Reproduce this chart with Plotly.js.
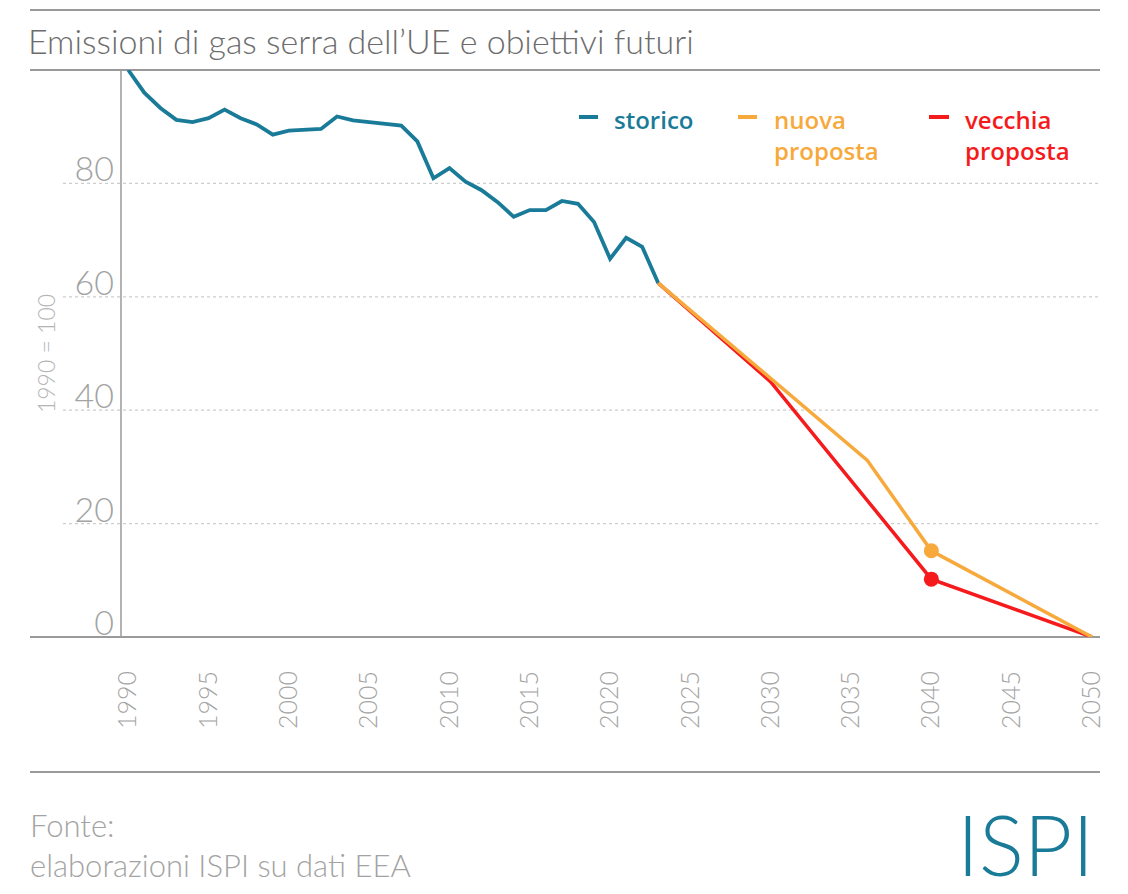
<!DOCTYPE html>
<html>
<head>
<meta charset="utf-8">
<script src="https://cdn.plot.ly/plotly-3.0.1.min.js"></script>
<style>
  html, body { margin: 0; padding: 0; background: #ffffff; }
  #chart { width: 1128px; height: 894px; }
</style>
</head>
<body>
<div id="chart"></div>
<script>
// EU greenhouse gas emissions, index 1990 = 100
const histYears = [1990, 1991, 1992, 1993, 1994, 1995, 1996, 1997, 1998, 1999,
                   2000, 2001, 2002, 2003, 2004, 2005, 2006, 2007, 2008, 2009,
                   2010, 2011, 2012, 2013, 2014, 2015, 2016, 2017, 2018, 2019,
                   2020, 2021, 2022, 2023];
const histValues = [100.0, 96.0, 93.3, 91.2, 90.8, 91.5, 93.0, 91.5, 90.4, 88.6,
                    89.3, 89.5, 89.6, 91.8, 91.1, 90.8, 90.5, 90.2, 87.4, 80.9,
                    82.7, 80.3, 78.8, 76.7, 74.1, 75.3, 75.3, 76.9, 76.4, 73.2,
                    66.7, 70.4, 68.8, 62.4];

// New target path
const newYears = [2023, 2030, 2036, 2040, 2050];
const newValues = [62.4, 45.6, 31.2, 15.2, 0];

// Old target path
const oldYears = [2023, 2030, 2040, 2050];
const oldValues = [62.4, 45.0, 10.2, 0];

const xTickVals = [1990, 1995, 2000, 2005, 2010, 2015, 2020, 2025, 2030, 2035, 2040, 2045, 2050];
const xTickText = xTickVals.map(String);
const yTickVals = [0, 20, 40, 60, 80];
const yTickText = ['0', '20', '40', '60', '80'];

const seriesNames = ['storico', 'nuova<br>proposta', 'vecchia<br>proposta'];

const COL_HIST = '#1a7b99';
const COL_NEW = '#f7a93b';
const COL_OLD = '#f51b1d';
const GREY_RULE = '#9a9a9a';
const GREY_TEXT = '#a3a3a3';

// plot area in pixels
const L = 121, R = 1100, T = 70, B = 637;
const px = x => (x - L) / (R - L);
const py = y => (B - y) / (B - T);

const LIGHT = 'Lato, "Open Sans", sans-serif';

const markerAt = (years, year, size) => years.map(y => (y === year ? size : 0));

const traces = [
  {
    x: histYears, y: histValues, type: 'scatter', mode: 'lines',
    line: { color: COL_HIST, width: 3.8 },
    hoverinfo: 'x+y', showlegend: false
  },
  {
    x: oldYears, y: oldValues, type: 'scatter', mode: 'lines+markers',
    line: { color: COL_OLD, width: 3.5 },
    marker: { color: COL_OLD, opacity: 1, size: markerAt(oldYears, 2040, 15), line: { width: 0 } },
    hoverinfo: 'x+y', showlegend: false
  },
  {
    x: newYears, y: newValues, type: 'scatter', mode: 'lines+markers',
    line: { color: COL_NEW, width: 3.5 },
    marker: { color: COL_NEW, opacity: 1, size: markerAt(newYears, 2040, 15), line: { width: 0 } },
    hoverinfo: 'x+y', showlegend: false
  }
];

const shapes = [];
// horizontal rules framing the chart
[10, 70, 637, 772].forEach(yy => {
  shapes.push({
    type: 'line', xref: 'paper', yref: 'paper',
    x0: px(30), x1: px(1100), y0: py(yy), y1: py(yy),
    line: { color: GREY_RULE, width: 2 }, layer: 'below'
  });
});
// dotted gridlines, extending under the tick labels
yTickVals.filter(v => v > 0).forEach(v => {
  shapes.push({
    type: 'line', xref: 'paper', yref: 'y',
    x0: px(63), x1: px(1100), y0: v, y1: v,
    line: { color: '#cdcdcd', width: 1.2, dash: 'dot' }, layer: 'below'
  });
});
// vertical axis line
shapes.push({
  type: 'line', xref: 'paper', yref: 'paper',
  x0: 0, x1: 0, y0: 0, y1: 1,
  line: { color: GREY_RULE, width: 1.5 }, layer: 'below'
});

// legend keys: short dash plus the series name
const legendItems = [
  { name: seriesNames[0], color: COL_HIST, dash: [579, 598], text: 612 },
  { name: seriesNames[1], color: COL_NEW, dash: [738, 757], text: 772 },
  { name: seriesNames[2], color: COL_OLD, dash: [929, 949], text: 963 }
];
const annotations = [];
legendItems.forEach(it => {
  shapes.push({
    type: 'line', xref: 'paper', yref: 'paper',
    x0: px(it.dash[0]), x1: px(it.dash[1]), y0: py(117), y1: py(117),
    line: { color: it.color, width: 4 }
  });
  annotations.push({
    xref: 'paper', yref: 'paper', x: px(it.text), y: py(101),
    xanchor: 'left', yanchor: 'top', align: 'left', showarrow: false,
    text: it.name,
    font: { family: '"Open Sans", Lato, sans-serif', size: 24, weight: 600, color: it.color }
  });
});

// footer
annotations.push({
  xref: 'paper', yref: 'paper', x: px(28), y: py(845),
  xanchor: 'left', yanchor: 'middle', align: 'left', showarrow: false,
  text: 'Fonte:<br>elaborazioni ISPI su dati EEA',
  font: { family: LIGHT, size: 31, weight: 300, color: GREY_TEXT }
});
annotations.push({
  xref: 'paper', yref: 'paper', x: px(1096), y: py(843),
  xanchor: 'right', yanchor: 'middle', showarrow: false,
  text: 'ISPI',
  font: { family: LIGHT, size: 84, weight: 300, color: COL_HIST }
});

const layout = {
  width: 1128, height: 894,
  margin: { l: L, r: 1128 - R, t: T, b: 894 - B, pad: 0 },
  paper_bgcolor: '#ffffff', plot_bgcolor: '#ffffff',
  font: { family: LIGHT, color: GREY_TEXT },
  title: {
    text: 'Emissioni di gas serra dell’UE e obiettivi futuri',
    xref: 'container', yref: 'container',
    x: 28 / 1128, xanchor: 'left', y: 1 - 42 / 894, yanchor: 'middle',
    font: { family: LIGHT, size: 34, weight: 300, color: '#6c6c6c' }
  },
  xaxis: {
    range: [1989.55, 2050.5], fixedrange: true,
    tickmode: 'array', tickvals: xTickVals, ticktext: xTickText,
    tickangle: -90, ticks: '', showline: false, showgrid: false, zeroline: false,
    ticklabelstandoff: 28,
    tickfont: { family: LIGHT, size: 25, weight: 300, color: GREY_TEXT }
  },
  yaxis: {
    range: [0, 100], fixedrange: true,
    tickmode: 'array', tickvals: yTickVals, ticktext: yTickText,
    ticks: '', showline: false, showgrid: false, zeroline: false,
    ticklabelshift: -14, ticklabelstandoff: 6,
    tickfont: { family: LIGHT, size: 34, weight: 300, color: GREY_TEXT },
    title: {
      text: '1990 = 100', standoff: 12,
      font: { family: LIGHT, size: 23, weight: 300, color: '#b4b4b4' }
    }
  },
  showlegend: false,
  shapes: shapes,
  annotations: annotations
};

Plotly.newPlot('chart', traces, layout, { displayModeBar: false, staticPlot: true });
</script>
</body>
</html>
